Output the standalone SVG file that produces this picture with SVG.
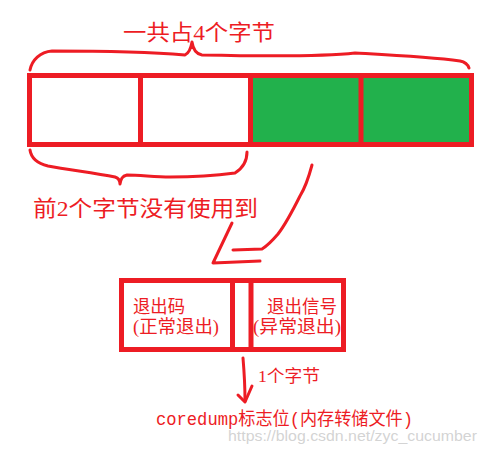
<svg xmlns="http://www.w3.org/2000/svg" width="486" height="449" viewBox="0 0 486 449">
<style>
.box{fill:none;stroke:#ed1c24;stroke-width:5}
.hand{fill:none;stroke:#ed1c24;stroke-width:3;stroke-linecap:round;stroke-linejoin:round}
.t{fill:#ed1c24;font-family:"Liberation Serif","Noto Sans CJK SC",serif}
.m{fill:#ed1c24;font-family:"Liberation Mono","Noto Sans CJK SC",monospace}
</style>
<rect width="486" height="449" fill="#fff"/>
<g id="bytes">
<rect x="250.5" y="75.5" width="221" height="69" fill="#22b14c"/>
<rect class="box" x="29.5" y="75.5" width="442" height="69"/>
<line class="box" x1="140.5" y1="75.5" x2="140.5" y2="144.5"/>
<line class="box" x1="250.5" y1="75.5" x2="250.5" y2="144.5"/>
<line class="box" x1="361" y1="75.5" x2="361" y2="144.5"/>
</g>
<g id="top-brace">
<path class="hand" d="M30 70 C32 60 40 52 52 51 C90 51 150 52 185 55 C189 53 191 48 192 42 C193 49 196 54 202 55 C250 56 320 57 355 53 C390 55 430 57 460 61 C465 62 468 65 469 68"/>
<text class="t" x="123" y="40" font-size="22" textLength="152" lengthAdjust="spacingAndGlyphs">一共占4个字节</text>
</g>
<g id="bottom-brace">
<path class="hand" d="M30 150 C31 157 36 163 48 166 C70 170 95 173 115 177 C118 178 120 181 120 184 C121 179 122 176 127 175 C140 175 155 177 170 177 C195 177 220 175 235 173 C243 168 247 160 247 152"/>
<text class="t" x="33" y="216" font-size="22" textLength="225" lengthAdjust="spacingAndGlyphs">前2个字节没有使用到</text>
</g>
<g id="connectors">
<path class="hand" d="M312 165 C308 180 305 188 300 196 C292 212 285 225 278 234 C272 241 267 246 262 249 L233 250"/>
<path class="hand" d="M232 223 L213 263 L260 261"/>
<path class="hand" d="M243 358 C244 370 245 385 245 401"/>
<path class="hand" d="M238 395 L245 402 L252 386"/>
</g>
<g id="status">
<rect class="box" x="121.5" y="280.5" width="222" height="69"/>
<line class="box" x1="232.5" y1="280.5" x2="232.5" y2="349.5"/>
<line class="box" x1="251" y1="280.5" x2="251" y2="349.5"/>
<text class="t" x="133" y="313" font-size="18" textLength="52" lengthAdjust="spacingAndGlyphs">退出码</text>
<text class="t" x="133" y="333" font-size="18" textLength="86" lengthAdjust="spacingAndGlyphs">(正常退出)</text>
<text class="t" x="267" y="313" font-size="18" textLength="70" lengthAdjust="spacingAndGlyphs">退出信号</text>
<text class="t" x="253" y="333" font-size="18" textLength="88" lengthAdjust="spacingAndGlyphs">(异常退出)</text>
</g>
<g id="labels">
<text class="t" x="258" y="382" font-size="17" textLength="62" lengthAdjust="spacingAndGlyphs">1个字节</text>
<text class="m" x="156" y="425" font-size="18" textLength="257" lengthAdjust="spacingAndGlyphs">coredump标志位(内存转储文件)</text>
</g>
<text x="228" y="441" font-size="15" fill="#c8c8c8" fill-opacity="0.8" font-family="Liberation Sans, sans-serif" textLength="249" lengthAdjust="spacingAndGlyphs">https://blog.csdn.net/zyc_cucumber</text>
</svg>
